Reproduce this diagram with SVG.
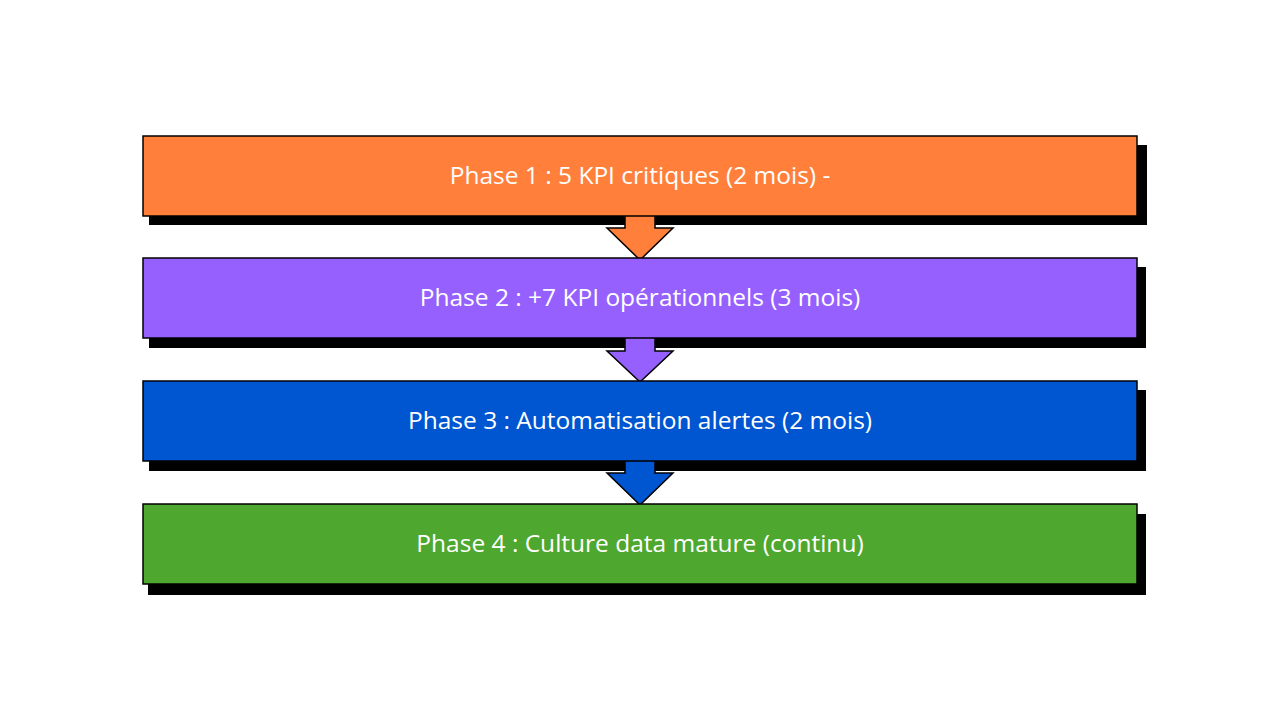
<svg xmlns="http://www.w3.org/2000/svg" width="1280" height="720" viewBox="0 0 1280 720">
<style>
.sh{fill:#000}
.bx{stroke:#000;stroke-width:1.5}
.ar{stroke:#000;stroke-width:1.5;stroke-linejoin:miter}
.t{font-family:"Open Sans","Liberation Sans",sans-serif;font-size:24.5px;fill:#fff;text-anchor:middle}
</style>
<rect width="1280" height="720" fill="#fff"/>
<g id="shadows">
<rect class="sh" x="149" y="145" width="998" height="80"/>
<rect class="sh" x="149" y="267" width="997" height="81"/>
<rect class="sh" x="149" y="390" width="997" height="81"/>
<rect class="sh" x="148" y="514" width="998" height="81"/>
</g>
<g id="connectors">
<path class="ar" fill="#FF7F3B" d="M625,214 V228 H607 L640,260 L673,228 H655 V214"/>
<path class="ar" fill="#9660FF" d="M625,336 V351 H607 L640,382 L673,351 H655 V336"/>
<path class="ar" fill="#0055D0" d="M625,459 V473 H607 L640,505 L673,473 H655 V459"/>
</g>
<g id="phase1">
<rect class="bx" x="143" y="136" width="994" height="80" fill="#FF7F3B"/>
<text class="t" x="640" y="184">Phase 1 : 5 KPI critiques (2 mois) -</text>
</g>
<g id="phase2">
<rect class="bx" x="143" y="258" width="994" height="80" fill="#9660FF"/>
<text class="t" x="640" y="306">Phase 2 : +7 KPI opérationnels (3 mois)</text>
</g>
<g id="phase3">
<rect class="bx" x="143" y="381" width="994" height="80" fill="#0055D0"/>
<text class="t" x="640" y="429">Phase 3 : Automatisation alertes (2 mois)</text>
</g>
<g id="phase4">
<rect class="bx" x="143" y="504" width="994" height="80" fill="#4EA72E"/>
<text class="t" x="640" y="552">Phase 4 : Culture data mature (continu)</text>
</g>
</svg>
